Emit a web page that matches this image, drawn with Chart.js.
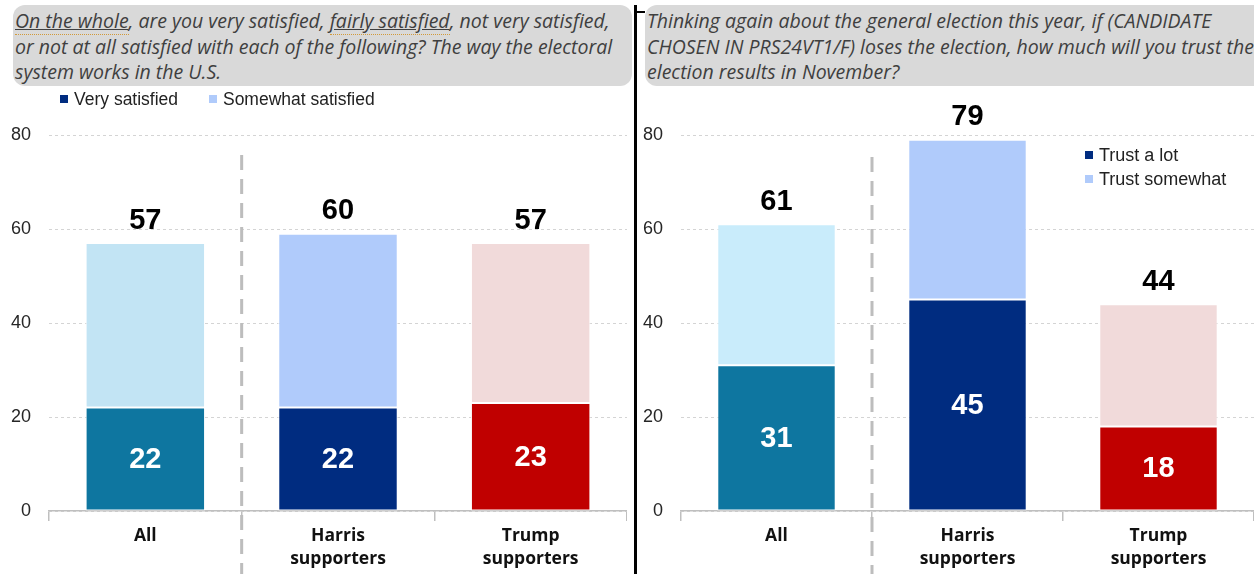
<!DOCTYPE html>
<html lang="en">
<head>
    <meta charset="UTF-8">
    <title>Electoral system satisfaction and trust</title>
    <script src="https://cdn.jsdelivr.net/npm/chart.js"></script>
    <style>
        body {
            margin: 0;
            background: #fff;
            width: 1254px;
            height: 574px;
            overflow: hidden;
            position: relative;
            font-family: "Liberation Sans", Arial, sans-serif;
        }
        .question {
            position: absolute;
            top: 5px;
            height: 81px;
            background: #d9d9d9;
            border-radius: 12px;
            font-family: "Open Sans", sans-serif;
            font-style: italic;
            font-size: 19.5px;
            line-height: 25.5px;
            color: #3f3f3f;
            white-space: nowrap;
            box-sizing: border-box;
            padding: 3px 0 0 2px;
        }
        .question u {
            text-decoration-color: #3f3f3f;
            border-bottom: 1px dotted #d29a3a;
        }
        #q1 { left: 13px; width: 619px; }
        #q2 { left: 645px; width: 609px; border-radius: 12px 0 0 12px; }
        #divider {
            position: absolute; left: 634px; top: 5px; width: 3px; height: 569px; background: #000;
        }
        #divTick {
            position: absolute; left: 636px; top: 11px; width: 9px; height: 2px; background: #000;
        }
        .wrap { position: absolute; top: 90px; height: 484px; }
        #w1 { left: 0; width: 627px; }
        #w2 { left: 638px; width: 616px; }
        .legend {
            position: absolute;
            font-size: 17.5px;
            color: #222;
            white-space: nowrap;
        }
        .legend span.sw {
            display: inline-block;
            width: 8px; height: 8px;
            margin-right: 6px;
            vertical-align: 2px;
        }
        #leg1 { left: 60px; top: 89px; }
        #leg1 .item { display: inline-block; margin-right: 26px; }
        #leg2 { left: 1085px; top: 143px; line-height: 24px; font-size: 18px; }
    </style>
</head>
<body>
    <div class="question" id="q1"><u>On the whole</u>, are you very satisfied, <u>fairly satisfied</u>, not very satisfied,<br>or not at all satisfied with each of the following? The way the electoral<br>system works in the U.S.</div>
    <div class="question" id="q2">Thinking again about the general election this year, if (CANDIDATE<br>CHOSEN IN PRS24VT1/F) loses the election, how much will you trust the<br>election results in November?</div>
    <div id="divider"></div>
    <div id="divTick"></div>

    <div class="wrap" id="w1"><canvas id="chart1"></canvas></div>
    <div class="wrap" id="w2"><canvas id="chart2"></canvas></div>

    <div class="legend" id="leg1">
        <span class="item"><span class="sw" style="background:#002c80"></span>Very satisfied</span>
        <span class="item"><span class="sw" style="background:#b0cbfb"></span>Somewhat satisfied</span>
    </div>
    <div class="legend" id="leg2">
        <div><span class="sw" style="background:#002c80"></span>Trust a lot</div>
        <div><span class="sw" style="background:#b0cbfb"></span>Trust somewhat</div>
    </div>

    <script>
        // data
        const categories = ['All', ['Harris', 'supporters'], ['Trump', 'supporters']];
        const yTicks = [0, 20, 40, 60, 80];

        const verySatisfied = [22, 22, 23];
        const somewhatSatisfied = [35, 37, 34];
        const satisfiedTotals = [57, 60, 57];

        const trustALot = [31, 45, 18];
        const trustSomewhat = [30, 34, 26];
        const trustTotals = [61, 79, 44];

        const darkColors = ['#0e76a0', '#002c80', '#c00000'];
        const lightColorsLeft = ['#c2e4f4', '#b0cbfb', '#f1dada'];
        const lightColorsRight = ['#c9ecfb', '#b0cbfb', '#f1dada'];

        const numFont = '"Liberation Sans", Arial, sans-serif';

        // bar labels: white inside the dark part, black total above
        const barLabels = {
            id: 'barLabels',
            afterDatasetsDraw(chart, args, opts) {
                const ctx = chart.ctx;
                const dark = chart.getDatasetMeta(0).data;
                const light = chart.getDatasetMeta(1).data;
                ctx.save();
                ctx.font = 'bold 29px ' + numFont;
                ctx.textAlign = 'center';
                dark.forEach((bar, i) => {
                    ctx.fillStyle = '#fff';
                    ctx.textBaseline = 'middle';
                    ctx.fillText(chart.data.datasets[0].data[i], bar.x, (bar.y + bar.base) / 2 + 1);
                    ctx.fillStyle = '#000';
                    ctx.textBaseline = 'bottom';
                    ctx.fillText(opts.totals[i], light[i].x, light[i].y - 8);
                });
                ctx.restore();
            }
        };

        // grey dashed line between "All" and the supporter groups
        const separator = {
            id: 'separator',
            afterDraw(chart, args, opts) {
                const x = chart.scales.x;
                const px = (x.getPixelForValue(0) + x.getPixelForValue(1)) / 2;
                const ctx = chart.ctx;
                ctx.save();
                ctx.strokeStyle = '#bdbdbd';
                ctx.lineWidth = 3;
                ctx.setLineDash([15, 9]);
                ctx.beginPath();
                ctx.moveTo(px, opts.top);
                ctx.lineTo(px, chart.height);
                ctx.stroke();
                ctx.restore();
            }
        };

        function makeChart(id, dark, light, lightColors, totals, yWidth, sepTop) {
            return new Chart(document.getElementById(id), {
                type: 'bar',
                data: {
                    labels: categories,
                    datasets: [
                        {
                            data: dark,
                            backgroundColor: darkColors,
                            borderColor: '#fff',
                            borderWidth: 1,
                            borderSkipped: false,
                            barPercentage: 0.62,
                            categoryPercentage: 1
                        },
                        {
                            data: light,
                            backgroundColor: lightColors,
                            borderColor: '#fff',
                            borderWidth: 1,
                            borderSkipped: false,
                            barPercentage: 0.62,
                            categoryPercentage: 1
                        }
                    ]
                },
                options: {
                    responsive: true,
                    maintainAspectRatio: false,
                    animation: false,
                    layout: { padding: { top: 45, left: 0, right: 0, bottom: 0 } },
                    plugins: {
                        legend: { display: false },
                        tooltip: { enabled: false },
                        barLabels: { totals: totals },
                        separator: { top: sepTop }
                    },
                    scales: {
                        x: {
                            stacked: true,
                            afterFit: axis => { axis.height = 63; },
                            grid: {
                                offset: true,
                                drawOnChartArea: false,
                                drawTicks: true,
                                tickLength: 10,
                                color: '#bfbfbf',
                                lineWidth: 1.5
                            },
                            border: { color: '#bfbfbf', width: 1.5 },
                            ticks: {
                                padding: 3,
                                color: '#111',
                                font: { family: '"Open Sans", sans-serif', weight: 'bold', size: 17.5, lineHeight: 1.35 }
                            }
                        },
                        y: {
                            stacked: true,
                            min: 0,
                            max: 80,
                            afterFit: axis => { axis.width = yWidth; },
                            afterBuildTicks: axis => { axis.ticks = yTicks.map(v => ({ value: v })); },
                            grid: {
                                color: '#d4d4d4',
                                lineWidth: 1,
                                drawTicks: false
                            },
                            border: { display: false, dash: [3, 3] },
                            ticks: {
                                padding: 18,
                                color: '#262626',
                                font: { family: '"Liberation Sans", Arial, sans-serif', size: 18 }
                            }
                        }
                    }
                },
                plugins: [barLabels, separator]
            });
        }

        makeChart('chart1', verySatisfied, somewhatSatisfied, lightColorsLeft, satisfiedTotals, 49, 65);
        makeChart('chart2', trustALot, trustSomewhat, lightColorsRight, trustTotals, 43, 67);
    </script>
</body>
</html>
